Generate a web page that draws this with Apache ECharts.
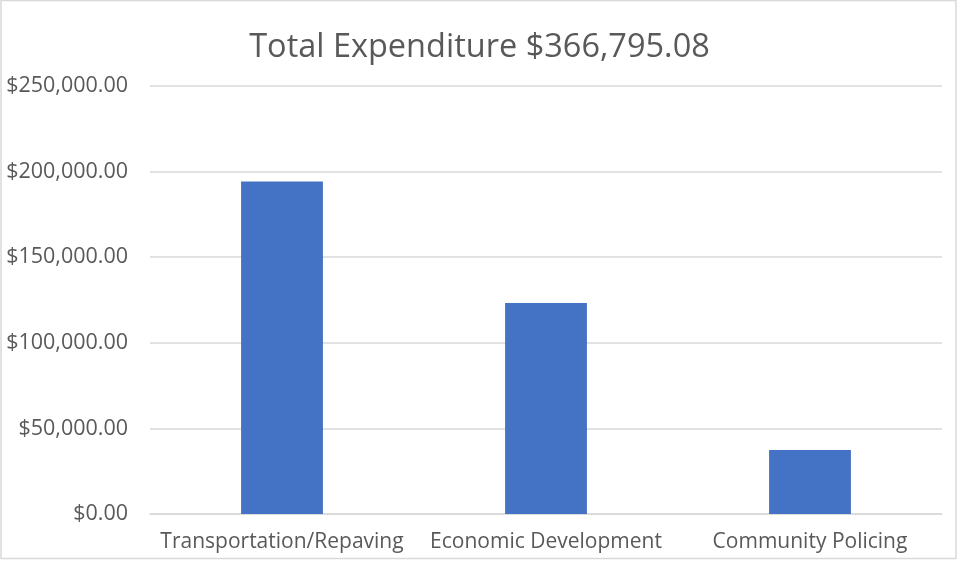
<!doctype html>
<html lang="en">
<head>
<meta charset="UTF-8">
<title>Total Expenditure</title>
<style>
  html, body { margin: 0; padding: 0; background: #fff; }
  #main { width: 959px; height: 561px; }
</style>
</head>
<body>
<div id="main"></div>
<script src="https://cdn.jsdelivr.net/npm/echarts@6/dist/echarts.min.js"></script>
<script>
    // data
    const categories = ['Transportation/Repaving', 'Economic Development', 'Community Policing']
    const expenditure = [194200, 123200, 37400]
    const titleText = 'Total Expenditure $366,795.08'

    const fmtMoney = function (v) {
        return '$' + Number(v).toLocaleString('en-US', {minimumFractionDigits: 2, maximumFractionDigits: 2})
    }

    const myChart = echarts.init(document.getElementById('main'))
    const option = {
        animation: false,
        textStyle: { fontFamily: 'Open Sans' },
        title: {
            text: titleText,
            left: 'center',
            top: 26,
            textStyle: { fontSize: 32.5, fontWeight: 'normal', color: '#595959', fontFamily: 'Open Sans' }
        },
        graphic: [{
            type: 'rect',
            shape: { x: 1, y: 0.5, width: 955, height: 558 },
            style: { fill: 'none', stroke: '#d9d9d9', lineWidth: 1.5 },
            silent: true
        }],
        grid: { left: 150, right: 17, top: 86, bottom: 47 },
        xAxis: {
            type: 'category',
            data: categories,
            axisLine: { show: true, lineStyle: { color: '#d9d9d9', width: 1.5 } },
            axisTick: { show: false },
            axisLabel: { color: '#595959', fontSize: 21, margin: 18, interval: 0, hideOverlap: false }
        },
        yAxis: {
            type: 'value',
            min: 0,
            max: 250000,
            interval: 50000,
            axisLine: { show: false },
            axisTick: { show: false },
            splitLine: { lineStyle: { color: '#d9d9d9', width: 1.5 } },
            axisLabel: { color: '#595959', fontSize: 21.5, margin: 22, formatter: fmtMoney }
        },
        series: [{
            type: 'bar',
            data: expenditure,
            barWidth: '31%',
            itemStyle: { color: '#4472c4' }
        }]
    }
    myChart.setOption(option)
</script>
</body>
</html>
